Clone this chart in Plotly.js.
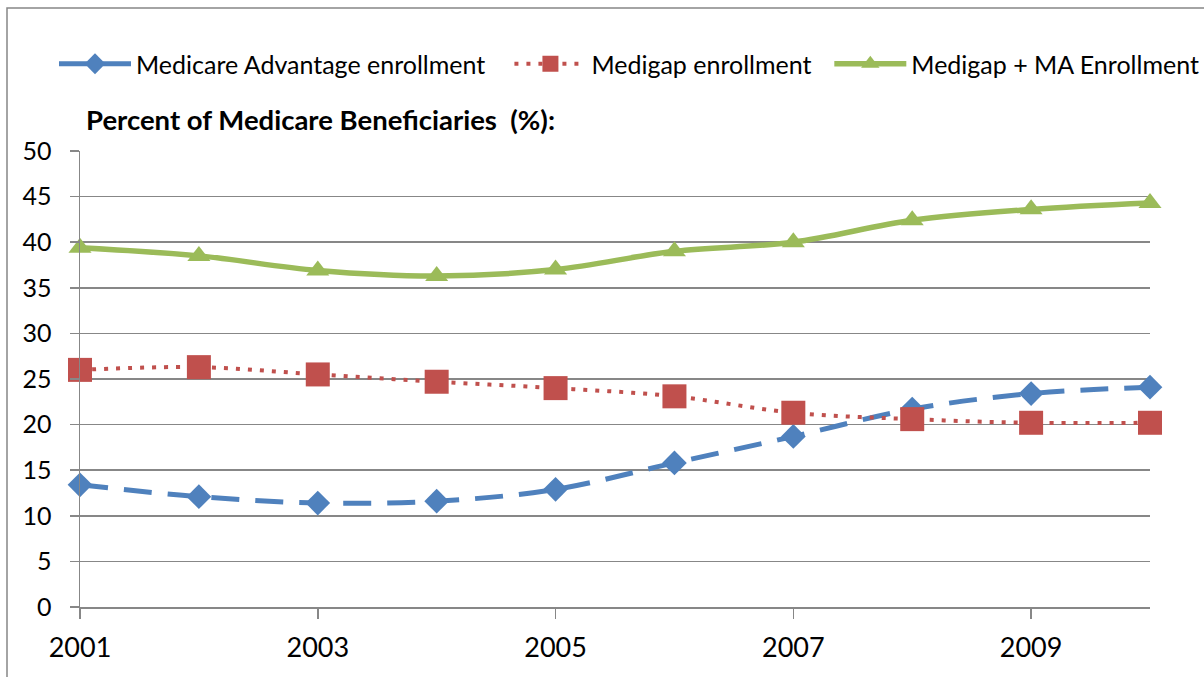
<!DOCTYPE html>
<html>
<head>
<meta charset="utf-8">
<script src="https://cdn.plot.ly/plotly-3.0.1.min.js"></script>
<style>
  html, body { margin: 0; padding: 0; background: #fff; }
  #chart { width: 1204px; height: 677px; }
</style>
</head>
<body>
<div id="chart"></div>
<script>
// Share of Medicare beneficiaries by enrollment type, 2001-2010 (%)
const years = [2001, 2002, 2003, 2004, 2005, 2006, 2007, 2008, 2009, 2010];
const medicareAdvantage = [13.4, 12.1, 11.4, 11.6, 12.9, 15.8, 18.7, 21.7, 23.4, 24.1];
const medigap = [26.0, 26.3, 25.5, 24.7, 24.0, 23.1, 21.3, 20.6, 20.2, 20.2];
const medigapPlusMA = [39.4, 38.5, 36.9, 36.3, 37.0, 39.0, 40.0, 42.4, 43.6, 44.3];
const xTickYears = [2001, 2003, 2005, 2007, 2009];
const seriesNames = ['Medicare Advantage enrollment', 'Medigap enrollment', 'Medigap + MA Enrollment'];
const yAxisLabel = 'Percent of Medicare Beneficiaries\u00a0 (%):';

const FONT = 'Lato, "Open Sans", sans-serif';
const GRID = '#878787';

// plot-area geometry in pixels, used for the frame around the chart
const W = 1204, H = 677;
const M = { l: 80, r: 54, t: 151, b: 70 };
const pw = W - M.l - M.r, ph = H - M.t - M.b;
const px2x = p => (p - M.l) / pw;
const px2y = p => (H - M.b - p) / ph;

// non-breaking spaces widen the gap after a legend entry
const pad = n => '\u00a0'.repeat(n);

const traces = [
  {
    x: years, y: medicareAdvantage, name: seriesNames[0] + pad(3),
    type: 'scatter', mode: 'lines+markers', cliponaxis: false,
    line: { color: '#4F81BD', width: 5, dash: '28px,16px', shape: 'spline', smoothing: 1 },
    marker: { symbol: 'diamond', size: 19, color: '#4F81BD' }
  },
  {
    x: years, y: medigap, name: seriesNames[1] + pad(2),
    type: 'scatter', mode: 'lines+markers', cliponaxis: false,
    line: { color: '#C0504D', width: 4, dash: '4px,8px', shape: 'spline', smoothing: 1 },
    marker: { symbol: 'square', size: 24, color: '#C0504D' }
  },
  {
    x: years, y: medigapPlusMA, name: seriesNames[2],
    type: 'scatter', mode: 'lines+markers', cliponaxis: false,
    line: { color: '#9BBB59', width: 5.5, shape: 'spline', smoothing: 1 },
    marker: { symbol: 'triangle-up', size: 20, color: '#9BBB59' }
  }
];

const layout = {
  width: W, height: H,
  margin: M,
  paper_bgcolor: '#ffffff',
  plot_bgcolor: '#ffffff',
  font: { family: FONT, color: '#000000' },
  showlegend: true,
  legend: {
    orientation: 'h',
    x: px2x(59), xanchor: 'left',
    y: px2y(64), yanchor: 'middle',
    font: { family: FONT, size: 25, color: '#000000' },
    bgcolor: 'rgba(0,0,0,0)',
    itemwidth: 72
  },
  xaxis: {
    range: [2001, 2010],
    tickvals: xTickYears,
    ticktext: xTickYears.map(String),
    ticks: 'outside', ticklen: 10, tickwidth: 1.5, tickcolor: GRID,
    showgrid: false, zeroline: false,
    showline: true, linecolor: GRID, linewidth: 1.5,
    tickfont: { family: FONT, size: 27, color: '#000000' },
    ticklabelstandoff: 6,
    fixedrange: true
  },
  yaxis: {
    range: [0, 50],
    dtick: 5, tick0: 0,
    ticks: 'outside', ticklen: 9, tickwidth: 1.5, tickcolor: GRID,
    showgrid: true, gridcolor: GRID, gridwidth: 1.5,
    zeroline: false,
    showline: true, linecolor: GRID, linewidth: 1.5,
    tickfont: { family: FONT, size: 25, color: '#000000' },
    ticklabelstandoff: 13,
    fixedrange: true
  },
  annotations: [
    {
      xref: 'paper', yref: 'paper',
      x: px2x(84), y: px2y(119),
      xanchor: 'left', yanchor: 'middle',
      text: '<b>' + yAxisLabel + '</b>',
      showarrow: false,
      font: { family: FONT, size: 27.5, color: '#000000' }
    }
  ],
  shapes: [
    {
      type: 'rect', xref: 'paper', yref: 'paper',
      x0: px2x(7), x1: px2x(W + 20),
      y0: px2y(H + 20), y1: px2y(8),
      line: { color: GRID, width: 1.5 },
      fillcolor: 'rgba(0,0,0,0)'
    }
  ]
};

Plotly.newPlot('chart', traces, layout, { displayModeBar: false, staticPlot: true });
</script>
</body>
</html>
